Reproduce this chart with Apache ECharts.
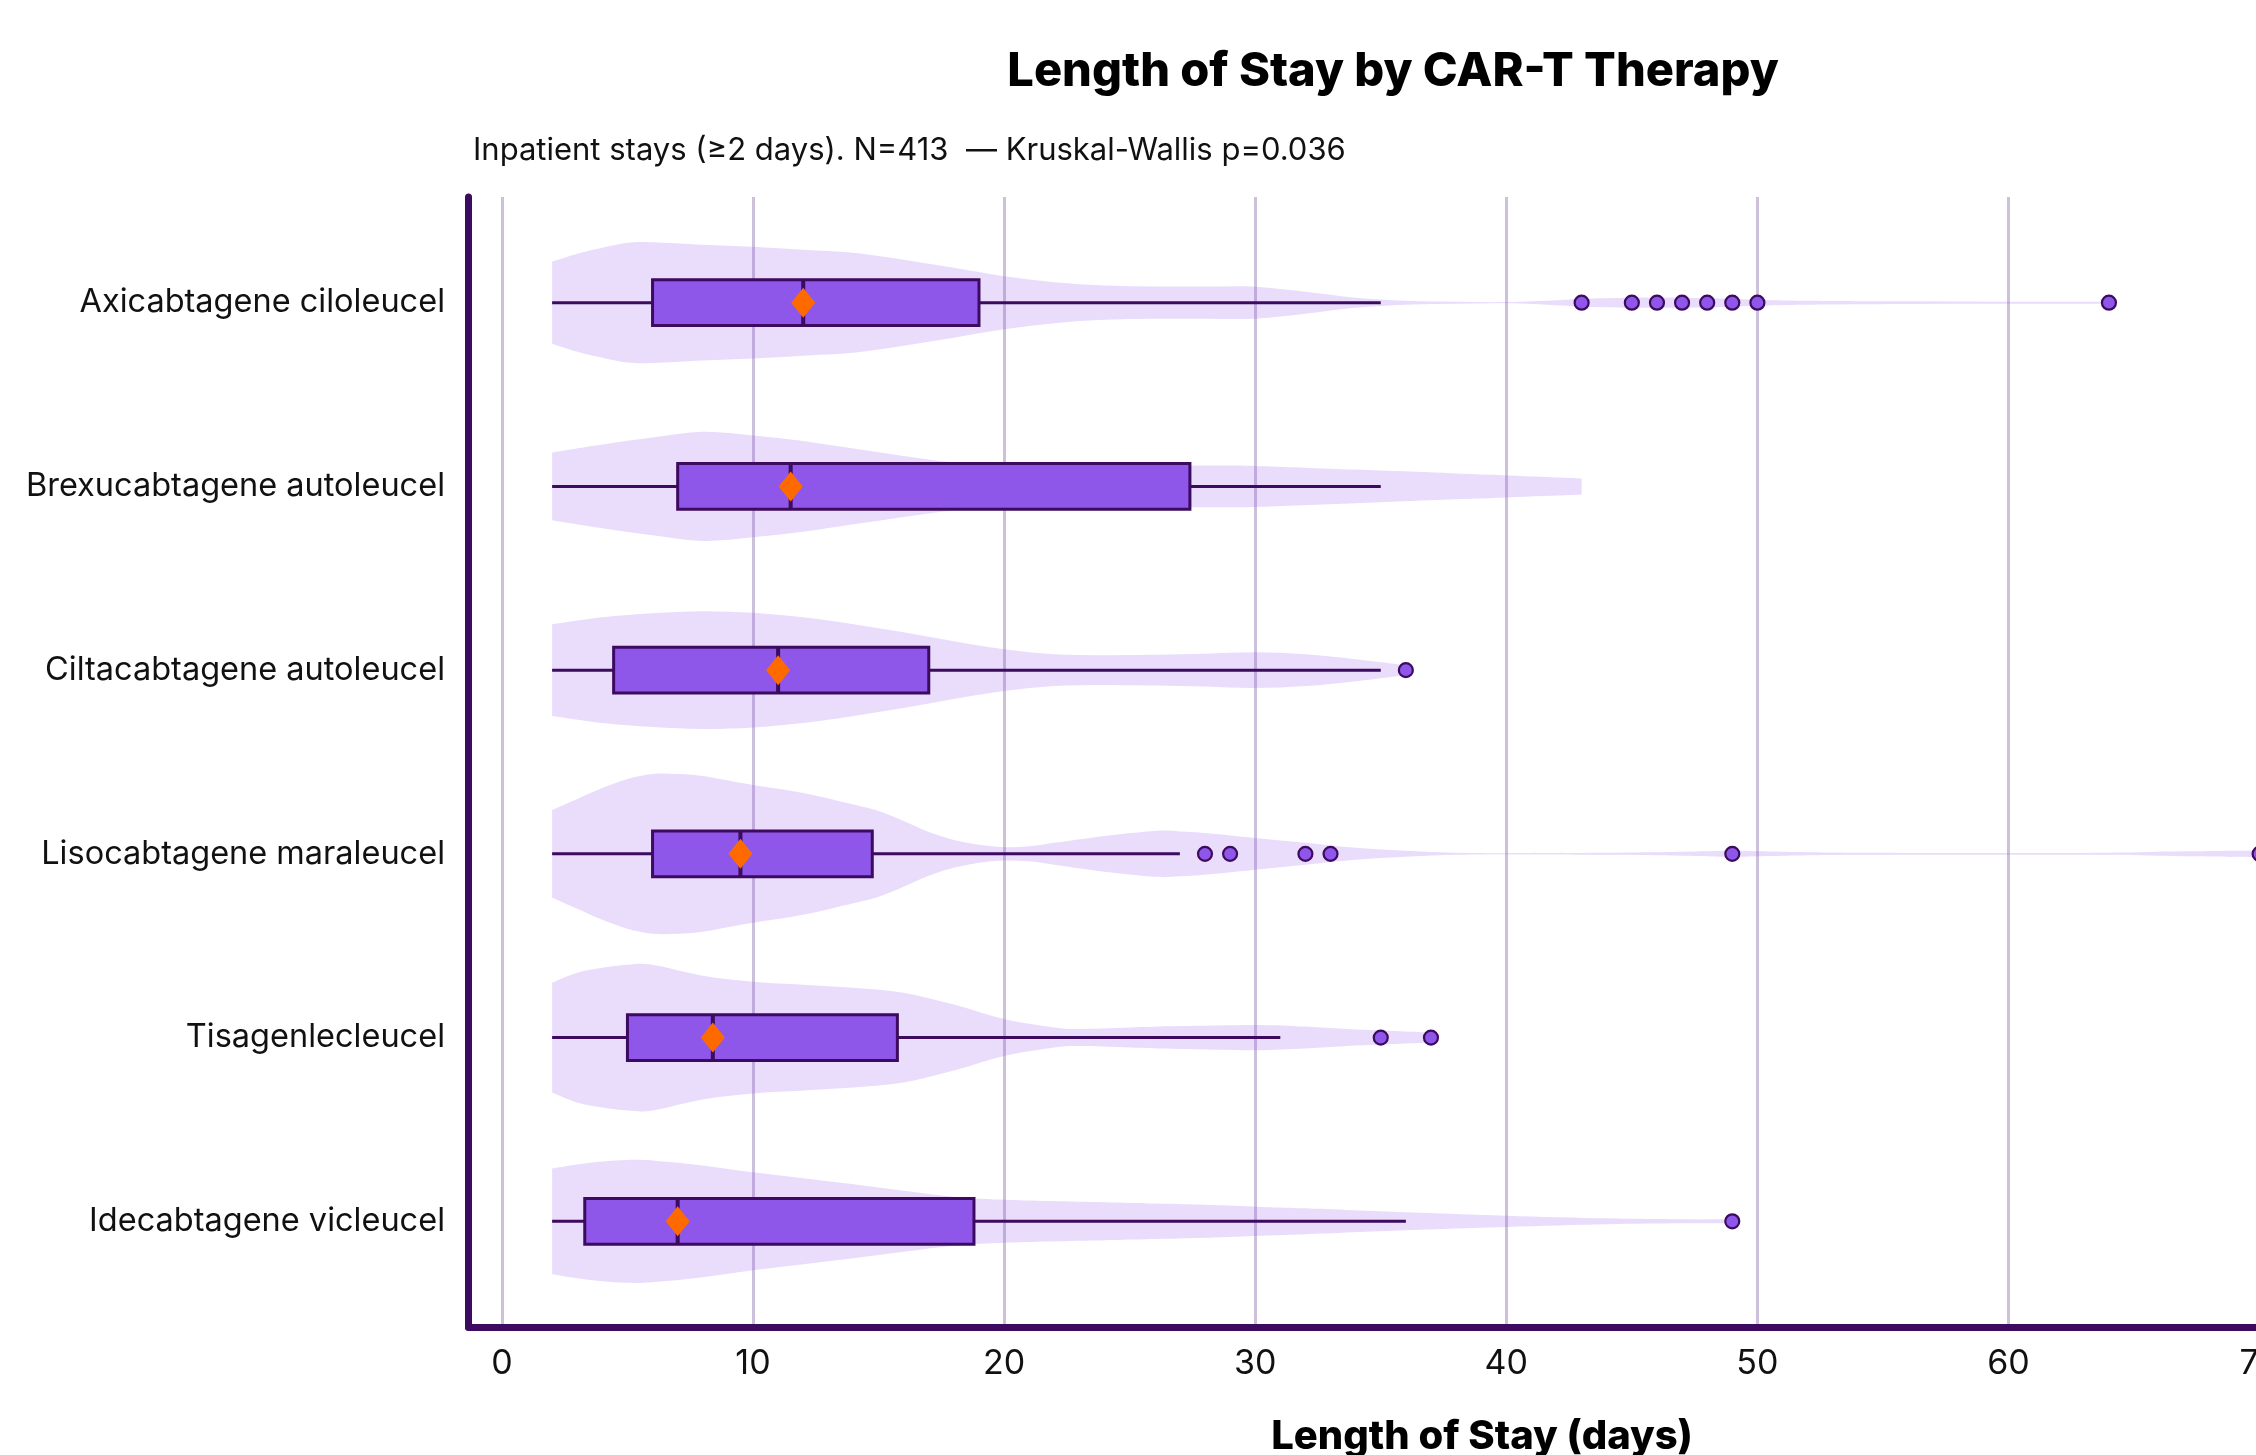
<!DOCTYPE html>
<html><head><meta charset="utf-8">
<script src="https://cdn.jsdelivr.net/npm/echarts@6/dist/echarts.min.js"></script>
<style>html,body{margin:0;padding:0;background:#fff}#c{width:2256px;height:1455px}</style>
</head><body><div id="c"></div>
<script>
// ---------------- data ----------------
const categories = [
  'Axicabtagene ciloleucel',
  'Brexucabtagene autoleucel',
  'Ciltacabtagene autoleucel',
  'Lisocabtagene maraleucel',
  'Tisagenlecleucel',
  'Idecabtagene vicleucel'
];
const whiskerLow  = [2, 2, 2, 2, 2, 2];
const q1          = [6, 7, 4.45, 6, 5, 3.3];
const median      = [12, 11.5, 11, 9.5, 8.4, 7];
const q3          = [19, 27.4, 17, 14.75, 15.75, 18.8];
const whiskerHigh = [35, 35, 35, 27, 31, 36];
const outliers = [
  [43, 45, 46, 47, 48, 49, 50, 64],
  [],
  [36],
  [28, 29, 32, 33, 49, 70],
  [35, 37],
  [49]
];
// violin (kernel density) outline: days and relative density
const violinDays = [
  [2,3,4,5,6,8,10,12,14,16,18,20,22,24,26,28,30,32,34,36,38,40,42,43,45,47,49,50,52,56,60,64],
  [2,4,6,8,10,12,14,16,18,20,24,28,30,34,38,43],
  [2,4,6,8,10,12,14,16,18,20,22,24,26,28,30,32,34,36],
  [2,3,4,5,6,7,8,10,12,14,15,16,17,18,19,20,21,22,24,26,27,28,30,32,34,36,38,40,44,47,49,51,54,60,64,67,70],
  [2,3,4,5,6,8,10,12,14,16,18,20,22,23,25,27,30,32,34,36,37],
  [2,3,4,5,6,8,10,12,14,16,18,20,24,28,30,32,36,40,44,47,49]
];
const violinDensity = [
  [0.41,0.49,0.55,0.60,0.605,0.58,0.56,0.53,0.50,0.43,0.35,0.265,0.205,0.172,0.162,0.161,0.16,0.11,0.05,0.02,0.01,0.006,0.025,0.04,0.05,0.05,0.04,0.03,0.02,0.013,0.01,0.01],
  [0.34,0.42,0.49,0.547,0.51,0.455,0.38,0.305,0.24,0.22,0.21,0.208,0.205,0.168,0.129,0.08],
  [0.46,0.53,0.57,0.59,0.575,0.53,0.46,0.38,0.29,0.21,0.16,0.15,0.155,0.165,0.18,0.16,0.11,0.05],
  [0.44,0.55,0.66,0.75,0.80,0.80,0.78,0.69,0.61,0.495,0.43,0.33,0.22,0.14,0.09,0.066,0.075,0.11,0.18,0.23,0.225,0.21,0.16,0.11,0.06,0.03,0.01,0.007,0.01,0.02,0.03,0.02,0.01,0.008,0.01,0.025,0.035],
  [0.55,0.65,0.70,0.73,0.73,0.62,0.56,0.53,0.50,0.45,0.33,0.185,0.10,0.085,0.10,0.115,0.127,0.11,0.08,0.06,0.05],
  [0.53,0.57,0.60,0.615,0.61,0.56,0.49,0.43,0.37,0.305,0.245,0.215,0.19,0.165,0.147,0.13,0.09,0.057,0.03,0.02,0.02]
];
const xTickValues = [0, 10, 20, 30, 40, 50, 60, 70, 80];
const titleText = 'Length of Stay by CAR-T Therapy';
const subtitleText = 'Inpatient stays (\u22652 days). N=413  \u2014 Kruskal-Wallis p=0.036';
const xAxisName = 'Length of Stay (days)';

// ---------------- style ----------------
const FONT = 'Inter';
const DARK = '#3c0a5e';
const BOX_FILL = '#8f57e9';
const VIOLIN_FILL = 'rgba(143,87,233,0.2)';
const ORANGE = '#ff6a00';
const GRID_COLOR = '#cdc0db';
const BOX_HALF = 0.125;          // box half-height in row units
const VIOLIN_SCALE = 0.544;      // row units per density unit
const X_MIN = -1.33, X_MAX = 79.4;
const Y_MIN = -0.575, Y_MAX = 5.575;

function smoothPath(pts) {
  let d = '';
  for (let i = 0; i < pts.length - 1; i++) {
    const p0 = pts[Math.max(0, i - 1)], p1 = pts[i], p2 = pts[i + 1], p3 = pts[Math.min(pts.length - 1, i + 2)];
    const c1x = p1[0] + (p2[0] - p0[0]) / 6, c1y = p1[1] + (p2[1] - p0[1]) / 6;
    const c2x = p2[0] - (p3[0] - p1[0]) / 6, c2y = p2[1] - (p3[1] - p1[1]) / 6;
    d += ' C' + c1x.toFixed(2) + ' ' + c1y.toFixed(2) + ' ' + c2x.toFixed(2) + ' ' + c2y.toFixed(2) + ' ' + p2[0].toFixed(2) + ' ' + p2[1].toFixed(2);
  }
  return d;
}

function renderViolin(params, api) {
  const i = params.dataIndex;
  const xs = violinDays[i], ds = violinDensity[i];
  const top = xs.map((x, k) => api.coord([x, i - ds[k] * VIOLIN_SCALE]));
  const bot = xs.map((x, k) => api.coord([x, i + ds[k] * VIOLIN_SCALE])).reverse();
  let d = 'M' + top[0][0] + ' ' + top[0][1] + smoothPath(top);
  d += ' L' + bot[0][0] + ' ' + bot[0][1] + smoothPath(bot) + ' Z';
  return { type: 'path', shape: { pathData: d }, style: { fill: VIOLIN_FILL, stroke: null } };
}

function renderBox(params, api) {
  const i = params.dataIndex;
  const lo = api.coord([whiskerLow[i], i]);
  const a = api.coord([q1[i], i]);
  const b = api.coord([q3[i], i]);
  const hi = api.coord([whiskerHigh[i], i]);
  const t = api.coord([q1[i], i - BOX_HALF]);
  const u = api.coord([q3[i], i + BOX_HALF]);
  const mt = api.coord([median[i], i - BOX_HALF]);
  const mb = api.coord([median[i], i + BOX_HALF]);
  const line = { stroke: DARK, lineWidth: 3 };
  return { type: 'group', children: [
    { type: 'line', shape: { x1: lo[0], y1: lo[1], x2: a[0], y2: a[1] }, style: line },
    { type: 'line', shape: { x1: b[0], y1: b[1], x2: hi[0], y2: hi[1] }, style: line },
    { type: 'rect', shape: { x: t[0], y: Math.min(t[1], u[1]), width: u[0] - t[0], height: Math.abs(u[1] - t[1]) },
      style: { fill: BOX_FILL, stroke: DARK, lineWidth: 3 } },
    { type: 'line', shape: { x1: mt[0], y1: mt[1], x2: mb[0], y2: mb[1] }, style: { stroke: DARK, lineWidth: 4 } }
  ]};
}

const outlierData = [];
outliers.forEach((arr, i) => arr.forEach(v => outlierData.push([v, i])));

const chart = echarts.init(document.getElementById('c'), null, { renderer: 'canvas' });
chart.setOption({
  animation: false,
  backgroundColor: '#ffffff',
  title: [
    { text: titleText, left: 1393, top: 48, textAlign: 'center', padding: 0,
      textStyle: { fontFamily: FONT, fontSize: 47, fontWeight: 800, color: '#000' } },
    { text: subtitleText, left: 473, top: 135, padding: 0,
      textStyle: { fontFamily: FONT, fontSize: 31, fontWeight: 'normal', color: '#111' } }
  ],
  grid: { left: 468.5, top: 197, width: (X_MAX - X_MIN) * 25.11, height: 1130,
          containLabel: false, outerBoundsMode: 'none' },
  xAxis: {
    type: 'value', min: X_MIN, max: X_MAX, splitNumber: 9,
    axisLine: { show: true, onZero: false, lineStyle: { color: DARK, width: 7 } },
    axisTick: { show: false },
    axisLabel: { customValues: xTickValues, fontFamily: FONT, fontSize: 34, color: '#111', margin: 20 },
    splitLine: { show: true, lineStyle: { color: GRID_COLOR, width: 3 } },
    name: xAxisName, nameLocation: 'middle', nameGap: 90,
    nameTextStyle: { fontFamily: FONT, fontSize: 40, fontWeight: 800, color: '#000' }
  },
  yAxis: {
    type: 'value', inverse: true, min: Y_MIN, max: Y_MAX,
    axisLine: { show: true, onZero: false, lineStyle: { color: DARK, width: 7 } },
    axisTick: { show: false },
    splitLine: { show: false },
    axisLabel: { customValues: [0, 1, 2, 3, 4, 5], fontFamily: FONT, fontSize: 32.5, color: '#111', margin: 23.5,
      formatter: v => (Number.isInteger(v) && categories[v] !== undefined) ? categories[v] : '' }
  },
  series: [
    { type: 'custom', name: 'violin', renderItem: renderViolin, z: 1,
      data: categories.map((c, i) => [q1[i], i]), silent: true },
    { type: 'custom', name: 'box', renderItem: renderBox, z: 2,
      data: categories.map((c, i) => [q1[i], i]), silent: true },
    { type: 'scatter', name: 'outliers', data: outlierData, z: 3, symbol: 'circle', symbolSize: 14,
      itemStyle: { color: BOX_FILL, borderColor: DARK, borderWidth: 2.2, opacity: 1 } },
    { type: 'scatter', name: 'median', data: median.map((m, i) => [m, i]), z: 4, symbol: 'diamond', symbolSize: [24, 30],
      itemStyle: { color: ORANGE, opacity: 1 } }
  ]
});
</script>
</body></html>
